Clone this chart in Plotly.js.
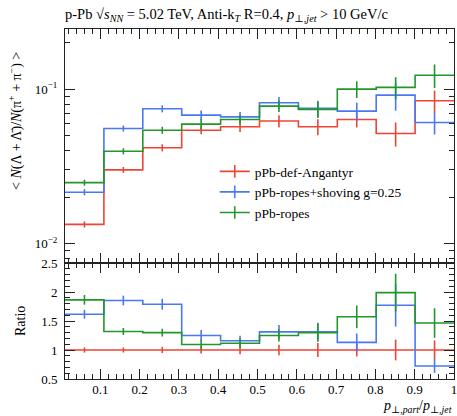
<!DOCTYPE html>
<html>
<head>
<meta charset="utf-8">
<script src="https://cdn.plot.ly/plotly-3.0.1.min.js"></script>
<style>html,body{margin:0;padding:0;background:#fff;}#chart{width:457px;height:416px;}</style>
</head>
<body>
<div id="chart"></div>
<script>
// Bin edges of p_T,part / p_T,jet
const binEdges = [0.01, 0.109, 0.208, 0.307, 0.406, 0.505, 0.604, 0.703, 0.802, 0.901, 1.0];
const xTickVals = [0.1, 0.2, 0.3, 0.4, 0.5, 0.6, 0.7, 0.8, 0.9, 1.0];
const xTickText = ['0.1', '0.2', '0.3', '0.4', '0.5', '0.6', '0.7', '0.8', '0.9', '1'];

// <N(Lambda+antiLambda)/N(pi+ + pi-)> per bin
const seriesNames = ['pPb-def-Angantyr', 'pPb-ropes+shoving g=0.25', 'pPb-ropes'];
const defAngantyr    = [0.0133, 0.0300, 0.0417, 0.0542, 0.0570, 0.0621, 0.0570, 0.0636, 0.0516, 0.0840];
const ropesShoving   = [0.0215, 0.0556, 0.0746, 0.0678, 0.0661, 0.0815, 0.0750, 0.0720, 0.0914, 0.0608];
const ropes          = [0.0248, 0.0396, 0.0542, 0.0593, 0.0636, 0.0776, 0.0739, 0.1000, 0.1026, 0.1230];

// statistical errors
const defAngantyrErr  = [0.0006, 0.0013, 0.0022, 0.0032, 0.0042, 0.0056, 0.0068, 0.0071, 0.0092, 0.0138];
const ropesShovingErr = [0.0010, 0.0025, 0.0039, 0.0050, 0.0049, 0.0073, 0.0089, 0.0097, 0.0190, 0.0100];
const ropesErr        = [0.0011, 0.0018, 0.0028, 0.0044, 0.0047, 0.0065, 0.0088, 0.0124, 0.0168, 0.0214];

const colors = ['#ee4433', '#4a78f2', '#22962a'];

const mainTickVals = [0.01, 0.1];
const mainTickText = ['10<sup>−2</sup>', '10<sup>−1</sup>'];
const mainMinorVals = [0.008, 0.009, 0.02, 0.03, 0.04, 0.05, 0.06, 0.07, 0.08, 0.09, 0.2];

const centers = binEdges.slice(0, -1).map((e, i) => (e + binEdges[i + 1]) / 2);
const all = [defAngantyr, ropesShoving, ropes];
const allErr = [defAngantyrErr, ropesShovingErr, ropesErr];
const ref = defAngantyr;

const traces = [];
all.forEach((vals, k) => {
  const stepY = vals.concat([vals[vals.length - 1]]);
  const ratio = vals.map((v, i) => v / ref[i]);
  const ratioErr = allErr[k].map((e, i) => e / ref[i]);
  const ratioStep = ratio.concat([ratio[ratio.length - 1]]);
  const ln = {color: colors[k], width: 1.6};
  traces.push({x: binEdges, y: stepY, xaxis: 'x', yaxis: 'y', mode: 'lines', line: Object.assign({shape: 'hv'}, ln), showlegend: false, hoverinfo: 'skip'});
  traces.push({x: centers, y: vals, xaxis: 'x', yaxis: 'y', mode: 'markers', marker: {size: 0.1, color: colors[k], opacity: 0},
    error_y: {type: 'data', array: allErr[k], visible: true, width: 0, thickness: 1.6, color: colors[k]}, showlegend: false, hoverinfo: 'skip'});
  traces.push({x: binEdges, y: ratioStep, xaxis: 'x2', yaxis: 'y2', mode: 'lines', line: Object.assign({shape: 'hv'}, ln), showlegend: false, hoverinfo: 'skip'});
  traces.push({x: centers, y: ratio, xaxis: 'x2', yaxis: 'y2', mode: 'markers', marker: {size: 0.1, color: colors[k], opacity: 0},
    error_y: {type: 'data', array: ratioErr, visible: true, width: 0, thickness: 1.6, color: colors[k]}, showlegend: false, hoverinfo: 'skip'});
  // legend-only entry (line with vertical error tick)
  traces.push({x: [null], y: [null], xaxis: 'x', yaxis: 'y', mode: 'lines+markers', name: seriesNames[k],
    line: {color: colors[k], width: 1.6}, marker: {symbol: 'line-ns-open', size: 9, color: colors[k], line: {color: colors[k], width: 1.6}}});
});

const serif = 'Liberation Serif, DejaVu Serif, serif';
const axBase = {showline: true, linecolor: '#222', linewidth: 1, mirror: 'allticks', ticks: 'inside', tickcolor: '#222', tickwidth: 1, ticklen: 10,
  showgrid: false, zeroline: false, tickfont: {family: serif, size: 13, color: '#000'}, ticklabeloverflow: 'allow'};
const splitFrac = 116 / 350;

const layout = {
  width: 457, height: 416,
  margin: {l: 65, r: 3, t: 29, b: 37},
  paper_bgcolor: '#fff', plot_bgcolor: '#fff',
  font: {family: serif, color: '#000'},
  showlegend: true,
  legend: {x: 0.385, y: 0.637, xanchor: 'left', yanchor: 'top', bgcolor: 'rgba(0,0,0,0)', font: {family: serif, size: 13.5, color: '#000'},
    tracegroupgap: 0, itemwidth: 30},
  title: {text: 'p-Pb √<i>s</i><sub><i>NN</i></sub> = 5.02 TeV, Anti-k<sub><i>T</i></sub> R=0.4, <i>p</i><sub>⊥,<i>jet</i></sub> &gt; 10 GeV/c',
    x: 65 / 457, xanchor: 'left', y: 1 - 14 / 416, yanchor: 'middle', font: {family: serif, size: 14.5, color: '#000'}},
  xaxis: Object.assign({}, axBase, {anchor: 'y', domain: [0, 1], range: [0.01, 1], tickmode: 'array', tickvals: xTickVals, showticklabels: false,
    minor: {dtick: 0.02, tick0: 0, ticks: 'inside', ticklen: 5, tickcolor: '#222', tickwidth: 1}}),
  yaxis: Object.assign({}, axBase, {anchor: 'x', domain: [splitFrac, 1], type: 'log', range: [Math.log10(0.00748), Math.log10(0.245)],
    tickmode: 'array', tickvals: mainTickVals, ticktext: mainTickText, ticklabelstandoff: 4,
    minor: {tickmode: 'array', tickvals: mainMinorVals, ticks: 'inside', ticklen: 5, tickcolor: '#222', tickwidth: 1}}),
  xaxis2: Object.assign({}, axBase, {anchor: 'y2', domain: [0, 1], range: [0.01, 1], matches: 'x', tickmode: 'array', tickvals: xTickVals, ticktext: xTickText,
    ticklabelstandoff: -2,
    minor: {dtick: 0.02, tick0: 0, ticks: 'inside', ticklen: 5, tickcolor: '#222', tickwidth: 1}}),
  yaxis2: Object.assign({}, axBase, {anchor: 'x2', domain: [0, splitFrac], range: [0.5, 2.5], dtick: 0.5, tick0: 0, ticklabelstandoff: 4,
    minor: {dtick: 0.1, tick0: 0, ticks: 'inside', ticklen: 5, tickcolor: '#222', tickwidth: 1}}),
  annotations: [
    {text: '&lt; <i>N</i>(Λ + Λ̄)/<i>N</i>(π<sup>+</sup> + π<sup>−</sup>) &gt;', xref: 'paper', yref: 'paper',
      x: (15 - 65) / 389, y: (379 - 121) / 350, textangle: -90, showarrow: false, xanchor: 'center', yanchor: 'middle',
      font: {family: serif, size: 14, color: '#000'}},
    {text: 'Ratio', xref: 'paper', yref: 'paper', x: (20 - 65) / 389, y: (379 - 321) / 350, textangle: -90, showarrow: false,
      xanchor: 'center', yanchor: 'middle', font: {family: serif, size: 14, color: '#000'}},
    {text: '<i>p</i><sub>⊥,<i>part</i></sub>/<i>p</i><sub>⊥,<i>jet</i></sub>', xref: 'paper', yref: 'paper', x: 1, y: (379 - 406) / 350,
      showarrow: false, xanchor: 'right', yanchor: 'middle', font: {family: serif, size: 14, color: '#000'}}
  ]
};

Plotly.newPlot('chart', traces, layout, {staticPlot: true, displayModeBar: false});
</script>
</body>
</html>
